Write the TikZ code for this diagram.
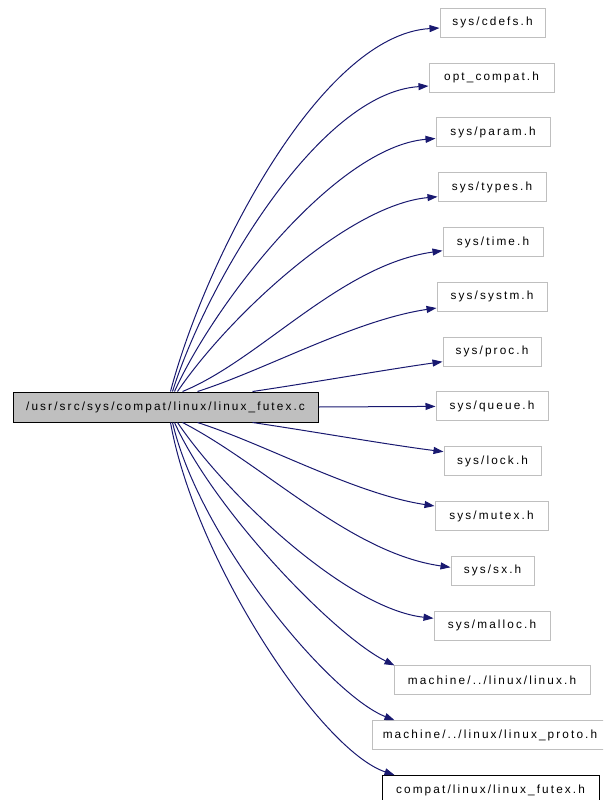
\documentclass[tikz,border=0pt]{standalone}
\usepackage{fontspec}
\setmainfont{Liberation Sans}[LetterSpace=18]
\usetikzlibrary{arrows.meta}
\definecolor{edgeblue}{HTML}{191970}
\definecolor{boxgray}{HTML}{BFBFBF}
\begin{document}
\begin{tikzpicture}[x=1pt,y=-1pt,
  box/.style={draw=boxgray, fill=white, line width=1pt, minimum height=29pt, inner sep=0pt, font=\fontsize{11.8}{14}\selectfont},
  mainbox/.style={box, draw=black, fill=boxgray, minimum height=30pt},
  hardbox/.style={box, draw=black},
  dep/.style={draw=edgeblue, line width=1pt, -{Triangle[length=10pt,width=7pt]}}]
\useasboundingbox (0,0) rectangle (603,800);
\clip (0,0) rectangle (603,800);
\node[mainbox, minimum width=305pt] (main) at (165.5,407) {/usr/src/sys/compat/linux/linux\_futex.c};
\node[box, minimum width=105pt] (cdefs) at (492.5,22.8) {sys/cdefs.h};
\node[box, minimum width=125pt] (opt) at (491.5,77.6) {opt\_compat.h};
\node[box, minimum width=114pt] (param) at (493,132.4) {sys/param.h};
\node[box, minimum width=108pt] (types) at (492,187.2) {sys/types.h};
\node[box, minimum width=100pt] (time) at (493,242.0) {sys/time.h};
\node[box, minimum width=110pt] (systm) at (492,296.8) {sys/systm.h};
\node[box, minimum width=98pt] (proc) at (492,351.6) {sys/proc.h};
\node[box, minimum width=112pt] (queue) at (492,406.4) {sys/queue.h};
\node[box, minimum width=97pt] (lock) at (492.5,461.2) {sys/lock.h};
\node[box, minimum width=113pt] (mutex) at (491.5,516.0) {sys/mutex.h};
\node[box, minimum width=83pt] (sx) at (492.5,570.8) {sys/sx.h};
\node[box, minimum width=116pt] (malloc) at (492,625.6) {sys/malloc.h};
\node[box, minimum width=196pt] (machine) at (492,680.4) {machine/../linux/linux.h};
\node[box, minimum width=236pt] (proto) at (490,735.2) {machine/../linux/linux\_proto.h};
\node[hardbox, minimum width=217pt] (compat) at (490.5,790.0) {compat/linux/linux\_futex.h};

\draw[dep] ([xshift=158pt]main.north west) .. controls (205,260) and (320,35) .. ([yshift=-5.2pt]cdefs.west);
\draw[dep] ([xshift=160pt]main.north west) .. controls (207,282) and (319,93) .. ([yshift=-8.4pt]opt.west);
\draw[dep] ([xshift=162pt]main.north west) .. controls (215,302) and (336,147) .. ([yshift=-6.1pt]param.west);
\draw[dep] ([xshift=165pt]main.north west) .. controls (228,317) and (348,205) .. ([yshift=-9.5pt]types.west);
\draw[dep] ([xshift=170pt]main.north west) .. controls (260,360) and (340,265) .. ([yshift=-8.7pt]time.west);
\draw[dep] ([xshift=185pt]main.north west) .. controls (265,370) and (355,320) .. ([yshift=-11.2pt]systm.west);
\draw[dep] ([xshift=240pt]main.north west) .. controls (310,383) and (390,369) .. ([yshift=-10.1pt]proc.west);
\draw[dep] (main.east) -- (queue.west);
\draw[dep] ([xshift=240pt]main.south west) .. controls (310,431) and (390,445) .. ([yshift=9.5pt]lock.west);
\draw[dep] ([xshift=185pt]main.south west) .. controls (265,444) and (355,494) .. ([yshift=10pt]mutex.west);
\draw[dep] ([xshift=170pt]main.south west) .. controls (265,465) and (350,553) .. ([yshift=3.5pt]sx.west);
\draw[dep] ([xshift=165pt]main.south west) .. controls (228,497) and (348,609) .. ([yshift=7.3pt]malloc.west);
\draw[dep] ([xshift=162pt]main.south west) .. controls (215,512) and (335,636) .. ([xshift=1pt]machine.north west);
\draw[dep] ([xshift=160pt]main.south west) .. controls (200,540) and (330,695) .. ([xshift=23pt]proto.north west);
\draw[dep] ([xshift=158pt]main.south west) .. controls (195,560) and (320,750) .. ([xshift=13pt]compat.north west);
\end{tikzpicture}
\end{document}
